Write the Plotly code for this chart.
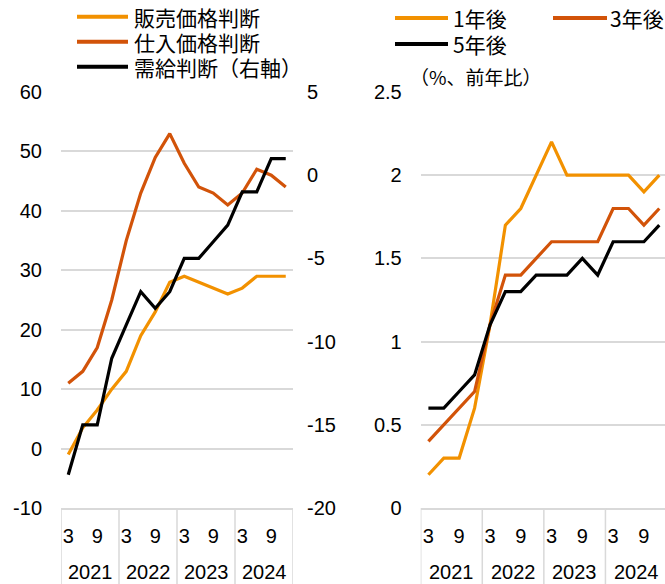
import plotly.graph_objects as go

# ---------------- data ----------------
years = ["2021", "2022", "2023", "2024"]
months = ["3", "6", "9", "12"]
month_tick_labels = ["3", "", "9", ""]  # only March and September labelled

left_names = ["販売価格判断", "仕入価格判断", "需給判断（右軸）"]
sales_price = [-1, 3.5, 6.5, 10, 13, 19, 23, 28, 29, 28, 27, 26, 27, 29, 29, 29]
input_price = [11, 13, 17, 25, 35, 43, 49, 53, 48, 44, 43, 41, 43, 47, 46, 44]
supply_demand = [-18, -15, -15, -11, -9, -7, -8, -7, -5, -5, -4, -3, -1, -1, 1, 1]

right_names = ["1年後", "3年後", "5年後"]
infl_1y = [0.2, 0.3, 0.3, 0.6, 1.1, 1.7, 1.8, 2.0, 2.2, 2.0, 2.0, 2.0, 2.0, 2.0, 1.9, 2.0]
infl_3y = [0.4, 0.5, 0.6, 0.7, 1.1, 1.4, 1.4, 1.5, 1.6, 1.6, 1.6, 1.6, 1.8, 1.8, 1.7, 1.8]
infl_5y = [0.6, 0.6, 0.7, 0.8, 1.1, 1.3, 1.3, 1.4, 1.4, 1.4, 1.5, 1.4, 1.6, 1.6, 1.6, 1.7]
right_unit = "（%、前年比）"

left_ticks = [-10, 0, 10, 20, 30, 40, 50, 60]
left2_ticks = [-20, -15, -10, -5, 0, 5]
right_ticks = [0, 0.5, 1, 1.5, 2, 2.5]

# ---------------- style ----------------
W, H = 665, 584
ORANGE = "#F29100"
RED = "#D25309"
BLACK = "#000000"
GRID = "#d9d9d9"
FONT = "Liberation Sans, Arial, Noto Sans CJK JP, sans-serif"
CJK = "Noto Sans CJK JP, Liberation Sans, sans-serif"
LW = 3.2

categories = [f"{y}/{m}" for y in years for m in months]
tick_text = [lab for _ in years for lab in month_tick_labels]
n = len(categories)
per_year = len(months)


def px(x):
    return x / W


def py(y):
    return 1 - y / H


def fmt(v):
    return f"{v:g}"


fig = go.Figure()
fig.add_trace(go.Scatter(x=categories, y=sales_price, name=left_names[0], mode="lines",
                         line=dict(color=ORANGE, width=LW), xaxis="x", yaxis="y"))
fig.add_trace(go.Scatter(x=categories, y=input_price, name=left_names[1], mode="lines",
                         line=dict(color=RED, width=LW), xaxis="x", yaxis="y"))
fig.add_trace(go.Scatter(x=categories, y=supply_demand, name=left_names[2], mode="lines",
                         line=dict(color=BLACK, width=LW), xaxis="x", yaxis="y2"))
fig.add_trace(go.Scatter(x=categories, y=infl_1y, name=right_names[0], mode="lines",
                         line=dict(color=ORANGE, width=LW), xaxis="x2", yaxis="y3"))
fig.add_trace(go.Scatter(x=categories, y=infl_3y, name=right_names[1], mode="lines",
                         line=dict(color=RED, width=LW), xaxis="x2", yaxis="y3"))
fig.add_trace(go.Scatter(x=categories, y=infl_5y, name=right_names[2], mode="lines",
                         line=dict(color=BLACK, width=LW), xaxis="x2", yaxis="y3"))

ydom = [py(508), py(92)]
tickfont = dict(family=FONT, size=20, color="#000000")

xcommon = dict(type="category", showgrid=False, showline=True, linecolor=GRID,
               linewidth=1.5, ticks="", tickfont=tickfont, fixedrange=True,
               automargin=False, tickangle=0, tickmode="array",
               tickvals=categories, ticktext=tick_text, ticklabelstandoff=9)

right_w = W - 420.7
right_unit_px = (667 - 420.7) / n

ycommon = dict(showline=False, zeroline=False, ticks="", tickfont=tickfont,
               automargin=False, fixedrange=True, tickmode="array")

fig.update_layout(
    width=W, height=H, margin=dict(l=0, r=0, t=0, b=0, autoexpand=False),
    paper_bgcolor="white", plot_bgcolor="white", showlegend=False,
    font=dict(family=FONT, size=20, color="#000000"),
    xaxis=dict(domain=[px(61), px(293)], anchor="y", range=[-0.5, n - 0.5], **xcommon),
    xaxis2=dict(domain=[px(420.7), 1.0], anchor="y3",
                range=[-0.5, -0.5 + right_w / right_unit_px], **xcommon),
    yaxis=dict(domain=ydom, anchor="x", range=[-10, 60], showgrid=True,
               gridcolor=GRID, gridwidth=1.5, ticklabelstandoff=18,
               tickvals=left_ticks, ticktext=[fmt(v) for v in left_ticks], **ycommon),
    yaxis2=dict(domain=ydom, anchor="x", overlaying="y", side="right", range=[-20, 5],
                showgrid=False, ticklabelstandoff=13,
                tickvals=left2_ticks, ticktext=[fmt(v) for v in left2_ticks], **ycommon),
    yaxis3=dict(domain=ydom, anchor="x2", range=[0, 2.5], showgrid=True,
                gridcolor=GRID, gridwidth=1.5, ticklabelstandoff=18,
                tickvals=right_ticks, ticktext=[fmt(v) for v in right_ticks], **ycommon),
)

shapes = []
annotations = []

# ---------------- year group labels and dividers ----------------
for xa in ["x", "x2"]:
    for k in range(len(years) + 1):
        shapes.append(dict(type="line", xref=xa, yref="paper",
                           x0=k * per_year - 0.5, x1=k * per_year - 0.5,
                           y0=py(508), y1=0, line=dict(color=GRID, width=1.5)))
    for k, yr in enumerate(years):
        annotations.append(dict(xref=xa, yref="paper", x=k * per_year + (per_year - 1) / 2,
                                y=py(572), text=yr, showarrow=False, xanchor="center",
                                yanchor="middle", font=tickfont))

# ---------------- manual legends ----------------
legend_font = dict(family=CJK, size=21, color="#000000")

left_rows = [16.7, 41.7, 66.7]
left_colors = [ORANGE, RED, BLACK]
for name, col, yy in zip(left_names, left_colors, left_rows):
    shapes.append(dict(type="line", xref="paper", yref="paper", x0=px(77), x1=px(128),
                       y0=py(yy), y1=py(yy), line=dict(color=col, width=4)))
    annotations.append(dict(xref="paper", yref="paper", x=px(133), y=py(yy), text=name,
                            showarrow=False, xanchor="left", yanchor="middle",
                            height=24, valign="middle", borderpad=0,
                            font=legend_font))

right_pos = [(395, 448, 452, 18), (553, 607, 609, 18), (395, 448, 452, 44)]
right_colors = [ORANGE, RED, BLACK]
for name, col, (x0, x1, xt, yy) in zip(right_names, right_colors, right_pos):
    shapes.append(dict(type="line", xref="paper", yref="paper", x0=px(x0), x1=px(x1),
                       y0=py(yy), y1=py(yy), line=dict(color=col, width=4)))
    annotations.append(dict(xref="paper", yref="paper", x=px(xt), y=py(yy), text=name,
                            showarrow=False, xanchor="left", yanchor="middle",
                            height=24, valign="middle", borderpad=0,
                            font=legend_font))

annotations.append(dict(xref="paper", yref="paper", x=px(409), y=py(76), text=right_unit,
                        showarrow=False, xanchor="left", yanchor="middle",
                        height=24, valign="middle", borderpad=0,
                        font=dict(family=CJK, size=19, color="#000000")))

fig.update_layout(shapes=shapes, annotations=annotations)

fig.write_html("out.html")
